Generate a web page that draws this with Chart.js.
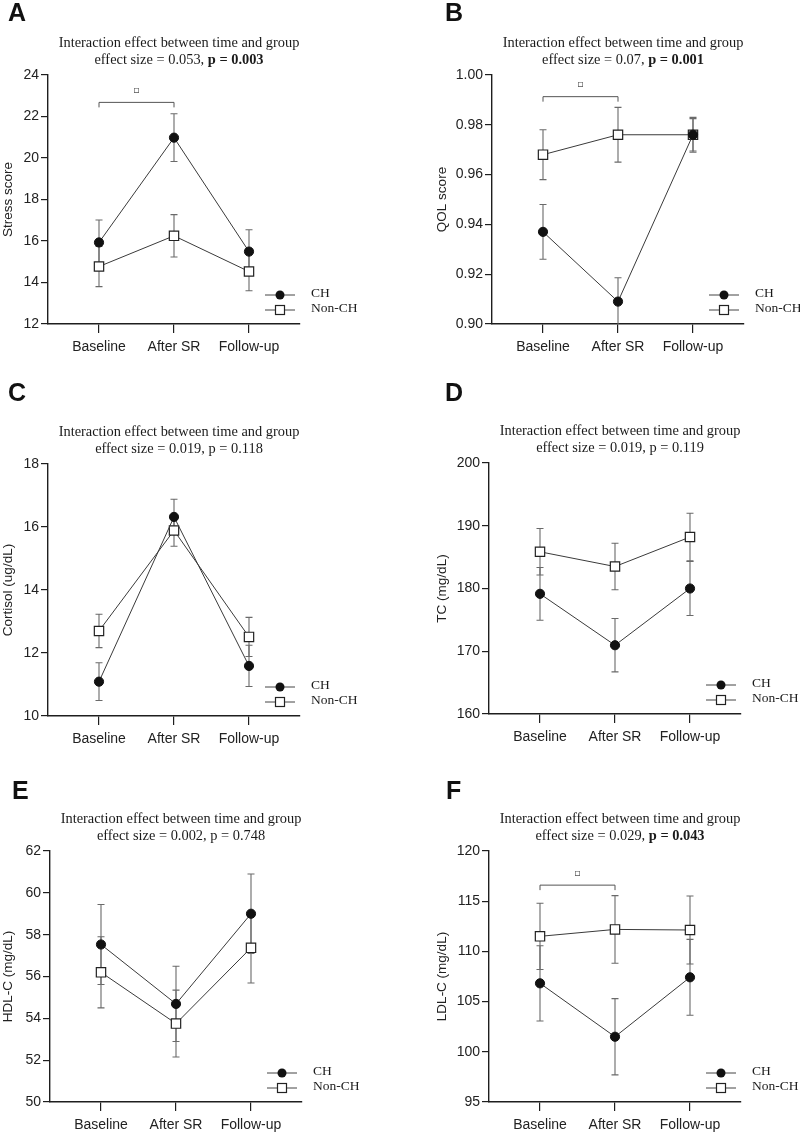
<!DOCTYPE html>
<html><head><meta charset="utf-8">
<script src="https://cdn.jsdelivr.net/npm/chart.js@4/dist/chart.umd.min.js"></script>
<style>
body{margin:0;background:#fff;width:800px;height:1134px;position:relative;overflow:hidden}
canvas{position:absolute}
.letter{position:absolute;font:bold 25px "Liberation Sans",Arial,sans-serif;line-height:24px;color:#111}
.title{position:absolute;width:340px;text-align:center;font:14.4px "Liberation Serif","Times New Roman",serif;line-height:17px;color:#1a1a1a;white-space:nowrap}
.legtxt{position:absolute;font:13.5px "Liberation Serif","Times New Roman",serif;line-height:15px;color:#1a1a1a;white-space:nowrap}
.legicon{position:absolute}
</style></head><body>
<script>
// ---------- data ----------
const categories = ['Baseline', 'After SR', 'Follow-up'];
const seriesNames = ['CH', 'Non-CH'];

// A: Stress score
const stressCH = [15.93, 20.98, 15.49];
const stressCHErr = [1.08, 1.15, 1.05];
const stressNon = [14.77, 16.25, 14.53];
const stressNonErr = [0.97, 1.02, 0.93];
const stressTicks = [12, 14, 16, 18, 20, 22, 24];

// B: QOL score
const qolCH = [0.937, 0.909, 0.976];
const qolCHErr = [0.011, 0.0096, 0.007];
const qolNon = [0.968, 0.976, 0.976];
const qolNonErr = [0.010, 0.011, 0.0065];
const qolTicks = [0.90, 0.92, 0.94, 0.96, 0.98, 1.00];

// C: Cortisol
const cortCH = [11.09, 16.32, 11.59];
const cortCHErr = [0.60, 0.56, 0.655];
const cortNon = [12.70, 15.89, 12.51];
const cortNonErr = [0.53, 0.50, 0.62];
const cortTicks = [10, 12, 14, 16, 18];

// D: TC
const tcCH = [179.15, 170.96, 180.0];
const tcCHErr = [4.2, 4.25, 4.3];
const tcNon = [185.85, 183.5, 188.2];
const tcNonErr = [3.7, 3.7, 3.8];
const tcTicks = [160, 170, 180, 190, 200];

// E: HDL-C
const hdlCH = [57.53, 54.69, 59.0];
const hdlCHErr = [1.91, 1.80, 1.90];
const hdlNon = [56.2, 53.75, 57.37];
const hdlNonErr = [1.70, 1.60, 1.68];
const hdlTicks = [50, 52, 54, 56, 58, 60, 62];

// F: LDL-C
const ldlCH = [106.82, 101.5, 107.42];
const ldlCHErr = [3.75, 3.80, 3.78];
const ldlNon = [111.5, 112.19, 112.13];
const ldlNonErr = [3.30, 3.37, 3.39];
const ldlTicks = [95, 100, 105, 110, 115, 120];

const panelLetters = ['A', 'B', 'C', 'D', 'E', 'F'];
const yTitles = ['Stress score', 'QOL score', 'Cortisol (ug/dL)', 'TC (mg/dL)', 'HDL-C (mg/dL)', 'LDL-C (mg/dL)'];
const effectSizes = ['0.053', '0.07', '0.019', '0.019', '0.002', '0.029'];
const pValues = ['0.003', '0.001', '0.118', '0.119', '0.748', '0.043'];
const pBold = [true, true, false, false, false, true];
// significance brackets: [fromCategory, toCategory, yValue] (null = none)
const brackets = [[0, 1, 22.68], [0, 1, 0.9913], null, null, null, [0, 1, 116.6]];

// ---------- layout ----------
const panels = [
  {ox:0,   oy:0,   w:400, h:380, L:48, top:75, bottom:324, titleX:7,  lx:8,   ly:0,   ch:stressCH, chErr:stressCHErr, non:stressNon, nonErr:stressNonErr, ticks:stressTicks, dec:0},
  {ox:400, oy:0,   w:400, h:380, L:92, top:75, bottom:324, titleX:42, lx:445, ly:0,   ch:qolCH, chErr:qolCHErr, non:qolNon, nonErr:qolNonErr, ticks:qolTicks, dec:2},
  {ox:0,   oy:380, w:400, h:380, L:48, top:84, bottom:336, titleX:7,  lx:8,   ly:380, ch:cortCH, chErr:cortCHErr, non:cortNon, nonErr:cortNonErr, ticks:cortTicks, dec:0},
  {ox:400, oy:380, w:400, h:380, L:89, top:83, bottom:334, titleX:42, lx:445, ly:380, ch:tcCH, chErr:tcCHErr, non:tcNon, nonErr:tcNonErr, ticks:tcTicks, dec:0},
  {ox:0,   oy:760, w:400, h:374, L:50, top:91, bottom:342, titleX:7,  lx:12,  ly:778, ch:hdlCH, chErr:hdlCHErr, non:hdlNon, nonErr:hdlNonErr, ticks:hdlTicks, dec:0},
  {ox:400, oy:760, w:400, h:374, L:89, top:91, bottom:342, titleX:42, lx:446, ly:778, ch:ldlCH, chErr:ldlCHErr, non:ldlNon, nonErr:ldlNonErr, ticks:ldlTicks, dec:0}
];

const SPAN = 252;      // x-axis length in px
const XPAD = 0.68;     // category padding on x axis
const tickFont = {family: '"Liberation Sans Narrow", "Liberation Sans", Arial, sans-serif', size: 14};
const titleFont = {family: '"Liberation Sans Narrow", "Liberation Sans", Arial, sans-serif', size: 13.5};
const axisColor = '#1e1e1e';

const errorBarPlugin = {
  id: 'errorBars',
  beforeDatasetsDraw(chart) {
    const {ctx, chartArea} = chart;
    const xs = chart.scales.x, ys = chart.scales.y;
    ctx.save();
    ctx.beginPath();
    ctx.rect(chartArea.left, chartArea.top - 20, chartArea.right - chartArea.left, chartArea.bottom - chartArea.top + 20);
    ctx.clip();
    ctx.strokeStyle = '#6a6a6a';
    ctx.lineWidth = 1.1;
    chart.data.datasets.forEach(ds => {
      ds.data.forEach((pt, j) => {
        const e = ds.errors[j];
        const px = xs.getPixelForValue(pt.x);
        const t = ys.getPixelForValue(pt.y + e), b = ys.getPixelForValue(pt.y - e);
        ctx.beginPath();
        ctx.moveTo(px, t); ctx.lineTo(px, b);
        ctx.moveTo(px - 3.5, t); ctx.lineTo(px + 3.5, t);
        ctx.moveTo(px - 3.5, b); ctx.lineTo(px + 3.5, b);
        ctx.stroke();
      });
    });
    ctx.restore();
  }
};

const bracketPlugin = {
  id: 'bracket',
  afterDatasetsDraw(chart, args, opts) {
    if (!opts || !opts.spec) return;
    const [a, b, v] = opts.spec;
    const {ctx} = chart;
    const xs = chart.scales.x, ys = chart.scales.y;
    const x0 = xs.getPixelForValue(a), x1 = xs.getPixelForValue(b), y = ys.getPixelForValue(v);
    ctx.save();
    ctx.strokeStyle = '#555';
    ctx.lineWidth = 1;
    ctx.beginPath();
    ctx.moveTo(x0, y + 5); ctx.lineTo(x0, y); ctx.lineTo(x1, y); ctx.lineTo(x1, y + 5);
    ctx.stroke();
    ctx.fillStyle = '#555';
    ctx.font = '10px "DejaVu Sans", sans-serif';
    ctx.textAlign = 'center';
    ctx.textBaseline = 'middle';
    ctx.fillText('\u25AB', (x0 + x1) / 2, y - 12);
    ctx.restore();
  }
};

function iconSVG(kind) {
  const marker = kind === 0
    ? '<circle cx="15" cy="6" r="4.5" fill="#111"/>'
    : '<rect x="10.5" y="1.5" width="9" height="9" fill="#fff" stroke="#222" stroke-width="1.2"/>';
  return '<svg width="31" height="12" xmlns="http://www.w3.org/2000/svg"><line x1="0" y1="6" x2="30" y2="6" stroke="#444" stroke-width="1"/>' + marker + '</svg>';
}

panels.forEach((p, k) => {
  const cv = document.createElement('canvas');
  cv.width = p.w; cv.height = p.h;
  cv.style.left = p.ox + 'px'; cv.style.top = p.oy + 'px';
  document.body.appendChild(cv);
  const padLeft = Math.max(0, p.titleX - 8);
  const yTicks = p.ticks;
  new Chart(cv, {
    type: 'line',
    data: {
      datasets: [
        {label: seriesNames[0], data: p.ch.map((v, i) => ({x: i, y: v})), errors: p.chErr,
         borderColor: '#3a3a3a', borderWidth: 1, pointStyle: 'circle', pointRadius: 4.6,
         pointBackgroundColor: '#111', pointBorderColor: '#111', pointBorderWidth: 1, clip: false},
        {label: seriesNames[1], data: p.non.map((v, i) => ({x: i, y: v})), errors: p.nonErr,
         borderColor: '#3a3a3a', borderWidth: 1, pointStyle: 'rect', pointRadius: 6.6,
         pointBackgroundColor: '#fff', pointBorderColor: '#222', pointBorderWidth: 1.2, clip: false}
      ]
    },
    options: {
      responsive: false, animation: false, devicePixelRatio: 1,
      layout: {padding: {left: padLeft, top: p.top, right: p.w - (p.L + SPAN), bottom: p.h - p.bottom - 40}},
      plugins: {legend: {display: false}, tooltip: {enabled: false}, bracket: {spec: brackets[k]}},
      scales: {
        x: {
          type: 'linear', min: -XPAD, max: categories.length - 1 + XPAD,
          afterFit(s) { s.height = 40; },
          afterBuildTicks(s) { s.ticks = categories.map((c, i) => ({value: i})); },
          ticks: {callback: v => categories[v], font: tickFont, color: '#222', padding: 6, autoSkip: false, maxRotation: 0},
          grid: {drawOnChartArea: false, drawTicks: true, tickLength: 9, color: axisColor, lineWidth: 1.2},
          border: {color: axisColor, width: 1.4}
        },
        y: {
          min: yTicks[0], max: yTicks[yTicks.length - 1],
          afterFit(s) { s.width = p.L - padLeft; },
          afterBuildTicks(s) { s.ticks = yTicks.map(v => ({value: v})); },
          ticks: {callback: v => Number(v).toFixed(p.dec), font: tickFont, color: '#222', padding: 2},
          title: {display: true, text: yTitles[k], font: titleFont, color: '#222', padding: 0},
          grid: {drawOnChartArea: false, drawTicks: true, tickLength: 7, color: axisColor, lineWidth: 1.2},
          border: {color: axisColor, width: 1.4}
        }
      }
    },
    plugins: [errorBarPlugin, bracketPlugin]
  });

  // panel letter
  const lt = document.createElement('div');
  lt.className = 'letter'; lt.textContent = panelLetters[k];
  lt.style.left = p.lx + 'px'; lt.style.top = p.ly + 'px';
  document.body.appendChild(lt);

  // title (two lines)
  const tt = document.createElement('div');
  tt.className = 'title';
  const cx = p.ox + p.L + 131;
  tt.style.left = (cx - 170) + 'px';
  tt.style.top = (p.oy + p.top - 41) + 'px';
  const pv = 'p = ' + pValues[k];
  tt.innerHTML = 'Interaction effect between time and group<br>effect size = ' + effectSizes[k] + ', ' +
    (pBold[k] ? '<b>' + pv + '</b>' : pv);
  document.body.appendChild(tt);

  // legend
  [0, 1].forEach(s => {
    const rowY = p.oy + p.bottom - 31 + s * 15;
    const ic = document.createElement('div');
    ic.className = 'legicon';
    ic.style.left = (p.ox + p.L + 217) + 'px';
    ic.style.top = (rowY - 6) + 'px';
    ic.innerHTML = iconSVG(s);
    document.body.appendChild(ic);
    const tx = document.createElement('div');
    tx.className = 'legtxt';
    tx.textContent = seriesNames[s];
    tx.style.left = (p.ox + p.L + 263) + 'px';
    tx.style.top = (rowY - 8) + 'px';
    document.body.appendChild(tx);
  });
});
</script>
</body></html>
